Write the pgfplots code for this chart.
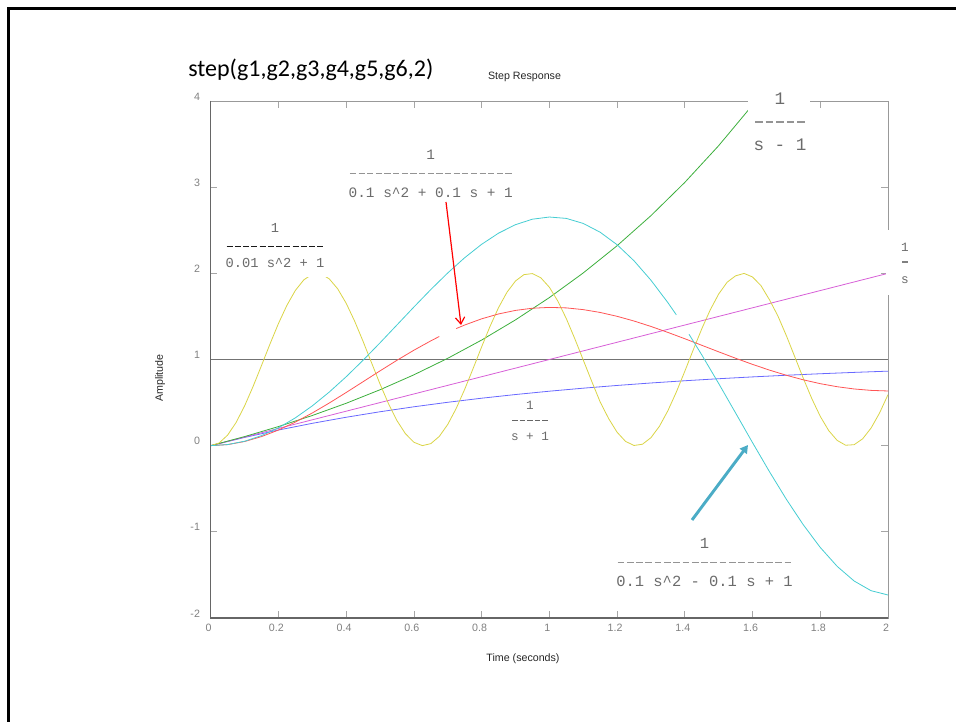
\documentclass[border=0pt]{standalone}
\usepackage{fontspec}
\setmainfont{Liberation Sans}
\newfontfamily\calibri{Carlito}
\newfontfamily\mono{Liberation Mono}
\usepackage{pgfplots}
\pgfplotsset{compat=1.18}
\usetikzlibrary{arrows.meta}

\definecolor{cY}{RGB}{218,212,70}
\definecolor{cC}{RGB}{70,205,210}
\definecolor{cG}{RGB}{60,175,60}
\definecolor{cR}{RGB}{255,85,85}
\definecolor{cM}{RGB}{215,95,215}
\definecolor{cB}{RGB}{105,105,255}
\definecolor{arrowteal}{RGB}{75,172,198}

% transfer function label: x, numerator baseline, dash row centre, denominator baseline,
% font size (pt), numerator, number of dashes, denominator, dash colour
\newcommand\tf[9]{%
  \pgfmathsetmacro\cw{0.8*#5}%
  \pgfmathsetmacro\xa{#1-#7*\cw/2+0.14*\cw}%
  \pgfmathsetmacro\xb{#1+#7*\cw/2-0.14*\cw}%
  \pgfmathsetmacro\don{0.72*0.6*#5}%
  \pgfmathsetmacro\doff{0.28*0.6*#5}%
  \node[anchor=base, inner sep=0, text=black!58, font=\mono\fontsize{#5}{#5}\selectfont] at (#1,#2) {#6};
  \draw[#9, line width=0.9pt, dash pattern=on \don pt off \doff pt] (\xa,#3) -- (\xb,#3);
  \node[anchor=base, inner sep=0, text=black!58, font=\mono\fontsize{#5}{#5}\selectfont] at (#1,#4) {#8};}

\begin{document}
\begin{tikzpicture}
\begin{axis}[
    at={(158pt,77.25pt)}, anchor=south west,
    scale only axis, width=508pt, height=387.75pt,
    xmin=0, xmax=2, ymin=-2, ymax=4,
    xtick={0,0.2,0.4,0.6,0.8,1,1.2,1.4,1.6,1.8,2},
    ytick={-2,-1,0,1,2,3,4},
    tick align=inside, tick pos=both, major tick length=5pt,
    tick style={black!35, line width=0.5pt},
    axis line style={black!40, line width=0.6pt},
    ticklabel style={font=\fontsize{8}{9.6}\selectfont, text=black!50},
    /pgf/number format/assume math mode=true,
    xticklabel style={xshift=-1.5pt, yshift=-1pt},
    yticklabel style={xshift=-4.5pt, yshift=3.5pt},
    every axis plot/.append style={line width=0.6pt},
]
% reference line at 1
\addplot[black!55, line width=0.5pt] coordinates {(0,1) (2,1)};

% g1 = 1/(s+1)
\addplot[cB] coordinates {(0,0) (0.1,0.0952) (0.2,0.1813) (0.3,0.2592) (0.4,0.3297) (0.5,0.3935) (0.6,0.4512) (0.7,0.5034) (0.8,0.5507) (0.9,0.5934) (1,0.6321) (1.1,0.6671) (1.2,0.6988) (1.3,0.7275) (1.4,0.7534) (1.5,0.7769) (1.6,0.7981) (1.7,0.8173) (1.8,0.8347) (1.9,0.8504) (2,0.8647)};

% g2 = 1/s
\addplot[cM] coordinates {(0,0) (2,2)};

% g3 = 1/(s-1)
\addplot[cG] coordinates {(0,0) (0.1,0.1052) (0.2,0.2214) (0.3,0.3499) (0.4,0.4918) (0.5,0.6487) (0.6,0.8221) (0.7,1.0138) (0.8,1.2255) (0.9,1.4596) (1,1.7183) (1.1,2.0042) (1.2,2.3201) (1.3,2.6693) (1.4,3.0552) (1.5,3.4817) (1.6,3.9530) (1.7,4.4739)};

% g4 = 1/(0.01s^2+1)
\addplot[cY] coordinates {(0,0) (0.025,0.0311) (0.05,0.1224) (0.075,0.2683) (0.1,0.4597) (0.125,0.6847) (0.15,0.9293) (0.175,1.1782) (0.2,1.4161) (0.225,1.6282) (0.25,1.8011) (0.275,1.9243) (0.3,1.9900) (0.325,1.9941) (0.35,1.9365) (0.375,1.8206) (0.4,1.6536) (0.425,1.4461) (0.45,1.2108) (0.475,0.9624) (0.5,0.7163) (0.525,0.4879) (0.55,0.2913) (0.575,0.1389) (0.6,0.0398) (0.625,0.0006) (0.65,0.0234) (0.675,0.1070) (0.7,0.2461) (0.725,0.4321) (0.75,0.6534) (0.775,0.8962) (0.8,1.1455) (0.825,1.3857) (0.85,1.6020) (0.875,1.7808) (0.9,1.9111) (0.925,1.9848) (0.95,1.9972) (0.975,1.9476) (1,1.8391) (1.025,1.6784) (1.05,1.4755) (1.075,1.2431) (1.1,0.9956) (1.125,0.7483) (1.15,0.5078) (1.175,0.3151) (1.2,0.1561) (1.225,0.0496) (1.25,0.0022) (1.275,0.0168) (1.3,0.0926) (1.325,0.2247) (1.35,0.4051) (1.375,0.6224) (1.4,0.8633) (1.425,1.1126) (1.45,1.3549) (1.475,1.5752) (1.5,1.7597) (1.525,1.8970) (1.55,1.9708) (1.575,1.9991) (1.6,1.9577) (1.625,1.8567) (1.65,1.6933) (1.675,1.5045) (1.7,1.2752) (1.725,1.0288) (1.75,0.7806) (1.775,0.5460) (1.8,0.3397) (1.825,0.1744) (1.85,0.0605) (1.875,0.0050) (1.9,0.0113) (1.925,0.0791) (1.95,0.2042) (1.975,0.3787) (2,0.5919)};

% g5 = 1/(0.1s^2+0.1s+1)
\addplot[cR] coordinates {(0,0) (0.05,0.0123) (0.1,0.0480) (0.15,0.1051) (0.2,0.1812) (0.25,0.2736) (0.3,0.3791) (0.35,0.4945) (0.4,0.6167) (0.45,0.7422) (0.5,0.8679) (0.55,0.9906) (0.6,1.1076) (0.65,1.2163) (0.675,1.2668)};
\addplot[cR] coordinates {(0.725,1.3589) (0.75,1.4001) (0.8,1.4718) (0.85,1.5286) (0.9,1.5697) (0.95,1.5950) (1,1.6046) (1.05,1.5989) (1.1,1.5790) (1.15,1.5460) (1.2,1.5013) (1.25,1.4466) (1.3,1.3836) (1.35,1.3144) (1.4,1.2410) (1.45,1.1652) (1.5,1.0891) (1.55,1.0146) (1.6,0.9433) (1.65,0.8769) (1.7,0.8168) (1.75,0.7640) (1.8,0.7195) (1.85,0.6841) (1.9,0.6580) (1.95,0.6416) (2,0.6346)};

% g6 = 1/(0.1s^2-0.1s+1)
\addplot[cC] coordinates {(0,0) (0.05,0.0127) (0.1,0.0513) (0.15,0.1161) (0.2,0.2069) (0.25,0.3226) (0.3,0.4616) (0.35,0.6215) (0.4,0.7993) (0.45,0.9913) (0.5,1.1933) (0.55,1.4008) (0.6,1.6087) (0.65,1.8117) (0.7,2.0043) (0.75,2.1811) (0.8,2.3367) (0.85,2.4661) (0.9,2.5647) (0.95,2.6283) (1,2.6535) (1.05,2.6376) (1.1,2.5791) (1.15,2.4772) (1.2,2.3322) (1.25,2.1458) (1.3,1.9204) (1.35,1.6600) (1.375,1.5181)};
\addplot[cC] coordinates {(1.4125,1.2926) (1.45,1.0543) (1.5,0.7218) (1.55,0.3793) (1.6,0.0351) (1.65,-0.3020) (1.7,-0.6231) (1.75,-0.9192) (1.8,-1.1813) (1.85,-1.4011) (1.9,-1.5707) (1.95,-1.6832) (2,-1.7329)};
\end{axis}

% page overlay in pixel units (y downward)
\begin{scope}[x=0.75pt, y=-0.75pt, shift={(0pt,540.75pt)}]
\useasboundingbox (0,0) rectangle (956,721);
% slide frame
\draw[line width=2pt] (8.7,725) -- (8.7,8.3) -- (960,8.3);
% darker left and bottom axis lines
\draw[black!60, line width=1.1pt] (210.7,101) -- (210.7,618) -- (888,618);

\node[anchor=base west, inner sep=0, font=\calibri\fontsize{18}{21}\selectfont] at (188,77) {step(g1,g2,g3,g4,g5,g6,2)};
\node[inner sep=0, font=\fontsize{8}{9.6}\selectfont, text=black!85] at (524.5,76.5) {Step Response};
\node[inner sep=0, font=\fontsize{8}{9.6}\selectfont, text=black!85] at (523,658.5) {Time (seconds)};
\node[inner sep=0, rotate=90, font=\fontsize{8}{9.6}\selectfont, text=black!85] at (160,378) {Amplitude};

% label backgrounds that hide the curves and axis behind them
\fill[white] (219,214) rectangle (332,277);
\fill[white] (748,86) rectangle (810,158);
\fill[white] (886,230) rectangle (916,295);

\tf{275}{232.6}{246.5}{267.6}{10.3}{1}{12}{0.01 s\textasciicircum 2 + 1}{black!90}
\tf{430.8}{159.8}{173.3}{197.1}{10.8}{1}{19}{0.1 s\textasciicircum 2 + 0.1 s + 1}{black!42}
\tf{780}{104.9}{122}{150.9}{13.2}{1}{5}{s - 1}{black!42}
\tf{905}{251.2}{262}{283.4}{9.5}{1}{1}{s}{black!50}
\tf{530}{409.2}{420.7}{440.9}{9.5}{1}{5}{s + 1}{black!60}
\tf{704.5}{548.4}{562.7}{586.8}{11.6}{1}{19}{0.1 s\textasciicircum 2 - 0.1 s + 1}{black!42}

% arrows
\draw[red, line width=0.9pt, -{Straight Barb[length=5pt,width=7pt]}] (446,202) -- (461,325);
\draw[arrowteal, line width=2.2pt, -{Triangle[length=6pt,width=6.5pt]}] (692,520) -- (748,445);
\end{scope}
\end{tikzpicture}
\end{document}
